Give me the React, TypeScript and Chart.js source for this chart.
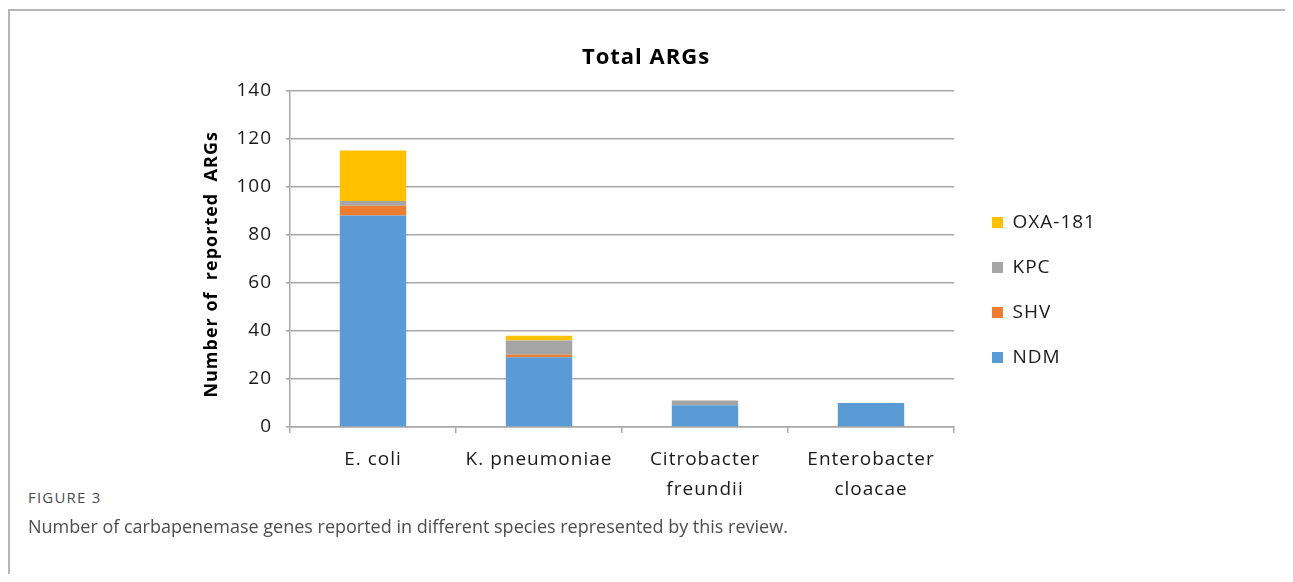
import React, { useEffect, useRef } from "react";
import { Chart, registerables } from "chart.js";

Chart.register(...registerables);

// ---- data ----
const categories: string[][] = [
  ["E. coli"],
  ["K. pneumoniae"],
  ["Citrobacter", "freundii"],
  ["Enterobacter", "cloacae"],
];
const ndmValues = [88, 29, 9, 10];
const shvValues = [4, 1, 0, 0];
const kpcValues = [2, 6, 2, 0];
const oxa181Values = [21, 2, 0, 0];
const seriesNames = ["NDM", "SHV", "KPC", "OXA-181"];
const seriesColors = ["#5B9BD5", "#ED7D31", "#A5A5A5", "#FFC000"];
const yMin = 0;
const yMax = 140;
const yStep = 20;

const chartFont = "'Open Sans', 'DejaVu Sans', sans-serif";

// Excel-like wide letter spacing for all chart text
const spacing = {
  id: "spacing",
  beforeLayout(chart: any) {
    chart.ctx.letterSpacing = "1px";
  },
  beforeDraw(chart: any) {
    chart.ctx.letterSpacing = "1px";
  },
};

// shifts the title and legend to where Excel placed them
const placement = {
  id: "placement",
  afterLayout(chart: any) {
    const lg = chart.legend;
    if (lg) {
      lg.left += 12;
      lg.right += 150;
    }
    const t = chart.titleBlock;
    if (t) {
      t.left += 29;
      t.right += 29;
    }
  },
};

export default function App() {
  const ref = useRef<HTMLCanvasElement | null>(null);

  useEffect(() => {
    if (!ref.current) return;
    const seriesValues = [ndmValues, shvValues, kpcValues, oxa181Values];
    const chart = new Chart(ref.current, {
      type: "bar",
      data: {
        labels: categories,
        datasets: seriesNames.map((name, i) => ({
          label: name,
          data: seriesValues[i],
          backgroundColor: seriesColors[i],
          borderWidth: 0,
          barPercentage: 0.4,
          categoryPercentage: 1,
        })),
      },
      options: {
        responsive: false,
        animation: false,
        layout: { padding: { top: 0, bottom: 20, left: 0, right: 106 } },
        plugins: {
          title: {
            display: true,
            text: "Total ARGs",
            color: "#000000",
            font: { family: chartFont, size: 22, weight: "bold", lineHeight: 1.2 },
            padding: { top: 15, bottom: 19 },
          },
          legend: {
            display: true,
            position: "right",
            reverse: true,
            maxWidth: 100,
            labels: {
              boxWidth: 11,
              boxHeight: 11,
              padding: 26,
              color: "#1a1a1a",
              font: { family: chartFont, size: 19 },
            },
          },
          tooltip: { enabled: false },
        },
        scales: {
          x: {
            stacked: true,
            grid: {
              display: true,
              drawOnChartArea: false,
              drawTicks: true,
              tickLength: 6,
              color: "#a8a8a8",
              lineWidth: 1.5,
            },
            border: { display: true, color: "#a8a8a8", width: 1.5 },
            ticks: {
              color: "#1a1a1a",
              padding: 12,
              maxRotation: 0,
              autoSkip: false,
              font: { family: chartFont, size: 19, lineHeight: 1.58 },
            },
            afterFit: (scale: any) => {
              scale.height = 123;
            },
          },
          y: {
            stacked: true,
            min: yMin,
            max: yMax,
            ticks: {
              stepSize: yStep,
              color: "#1a1a1a",
              padding: 14,
              font: { family: chartFont, size: 19 },
            },
            grid: {
              color: "#a8a8a8",
              lineWidth: 1.5,
              drawTicks: true,
              tickLength: 4,
            },
            border: { display: true, color: "#a8a8a8", width: 1.5 },
            title: {
              display: true,
              text: "Number of  reported  ARGs  ",
              color: "#000000",
              font: { family: chartFont, size: 18, weight: "bold", lineHeight: 1.2 },
              padding: { top: 21, bottom: 0 },
            },
            afterFit: (scale: any) => {
              scale.width = 110;
            },
          },
        },
      },
      plugins: [spacing, placement],
    });
    return () => chart.destroy();
  }, []);

  return (
    <div
      style={{
        position: "relative",
        margin: -8,
        width: 1293,
        height: 582,
        overflow: "hidden",
        background: "#ffffff",
      }}
    >
      <div
        style={{
          position: "absolute",
          left: 8,
          top: 9,
          width: 1320,
          height: 620,
          borderTop: "2px solid #b5b5b5",
          borderLeft: "2px solid #b5b5b5",
        }}
      />
      <canvas
        ref={ref}
        width={980}
        height={540}
        style={{ position: "absolute", left: 180, top: 30, width: 980, height: 540 }}
      />
      <div
        style={{
          position: "absolute",
          left: 28,
          top: 487,
          fontFamily: "'Open Sans', sans-serif",
          fontSize: 15,
          letterSpacing: "1.2px",
          lineHeight: "20px",
          color: "#4d4d4d",
          whiteSpace: "nowrap",
        }}
      >
        FIGURE 3
      </div>
      <div
        style={{
          position: "absolute",
          left: 28,
          top: 514,
          fontFamily: "'Open Sans', sans-serif",
          fontSize: 18,
          lineHeight: "24px",
          color: "#4d4d4d",
          whiteSpace: "nowrap",
        }}
      >
        Number of carbapenemase genes reported in different species represented by this review.
      </div>
    </div>
  );
}
